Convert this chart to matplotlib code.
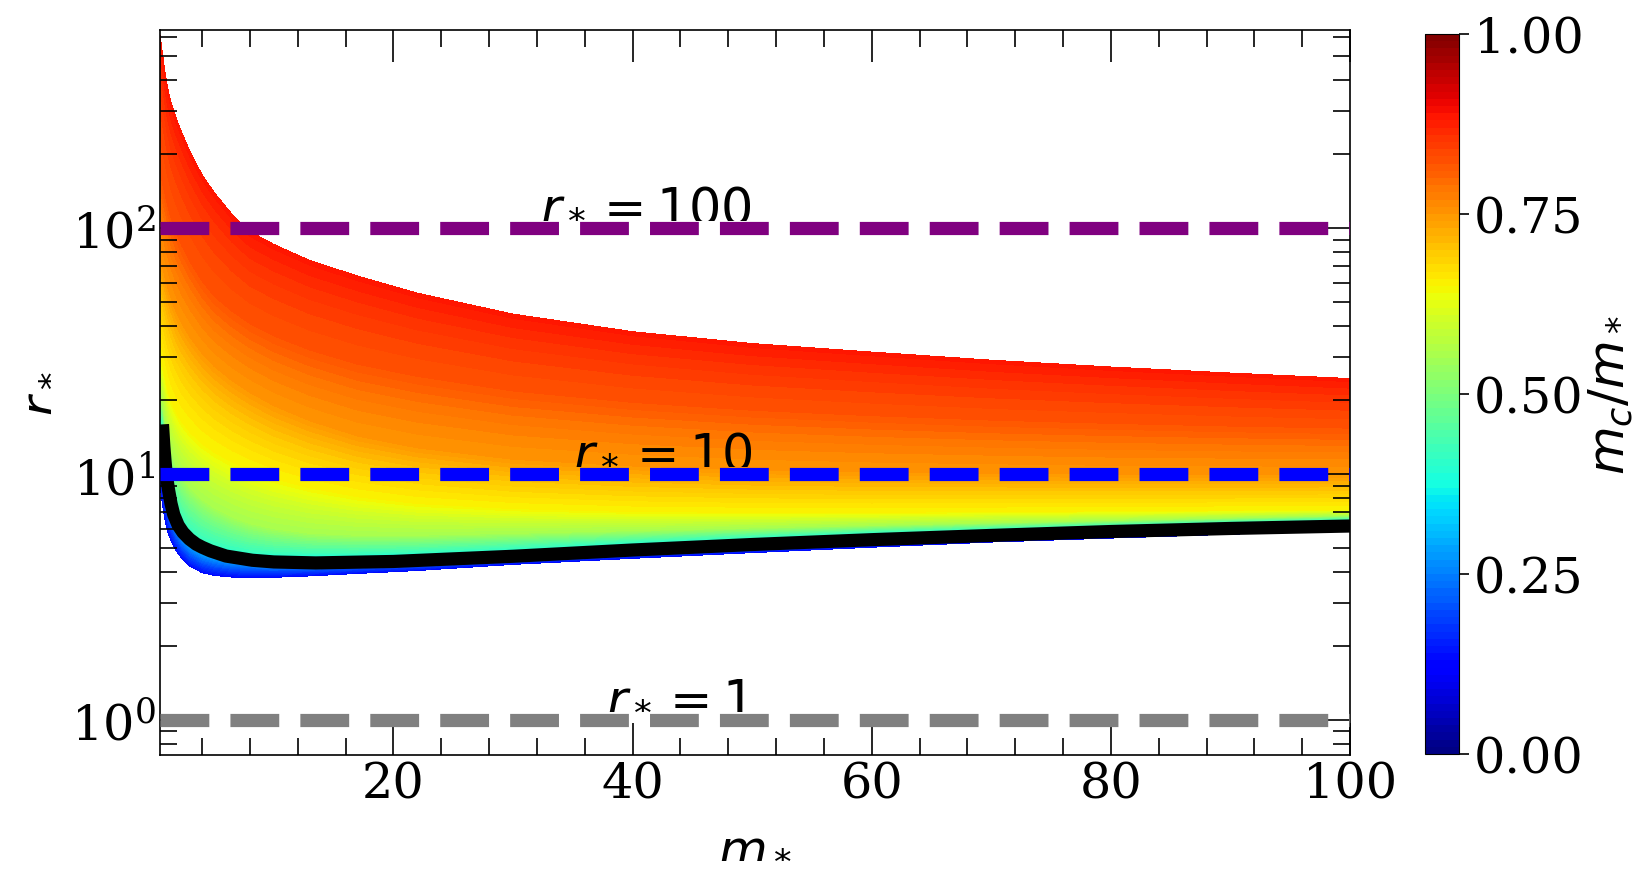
import numpy as np
import matplotlib
matplotlib.use('Agg')
import matplotlib.pyplot as plt
from matplotlib.ticker import AutoMinorLocator

plt.rcParams['font.family'] = 'serif'
plt.rcParams['mathtext.fontset'] = 'dejavusans'

m_cols = [0.5, 0.6, 0.75, 0.9, 1.1, 1.4, 1.8, 2.3, 3, 4, 5, 6.5, 8, 10,
          13, 17, 22, 30, 40, 50, 60, 70, 80, 90, 100]

# m_c/m_* carried by each band (first = lower edge, last = upper edge)
band_levels = [0.13, 0.42, 0.55, 0.65, 0.75, 0.82, 0.885]

# r_* of each band at each m_*
r_lower = [9.0, 8.1, 7.2, 6.5, 5.9, 5.35, 4.9, 4.55, 4.22, 3.98, 3.88, 3.82, 3.80,
           3.81, 3.86, 3.95, 4.06, 4.3, 4.55, 4.8, 5.05, 5.3, 5.5, 5.7, 5.9]
r_cyan = [16.5, 16, 15.5, 13, 10.8, 8.8, 7.4, 6.5, 5.9, 5.45, 5.2, 5.0, 4.85,
          4.78, 4.74, 4.76, 4.82, 5.0, 5.3, 5.55, 5.8, 6.0, 6.2, 6.4, 6.55]
r_green = [20, 19.5, 18.5, 16.5, 14.5, 12.5, 11, 9.8, 8.8, 7.9, 7.3, 6.7, 6.3,
           6.0, 5.75, 5.65, 5.65, 5.75, 5.9, 6.05, 6.2, 6.35, 6.5, 6.65, 6.8]
r_yellow = [30, 29, 27, 25, 22.5, 20, 18, 16.3, 14.8, 13.3, 12.3, 11.2, 10.4,
            9.6, 8.8, 8.1, 7.6, 7.25, 7.05, 7.0, 7.0, 7.05, 7.1, 7.15, 7.2]
r_orange = [75, 72, 68, 63, 58, 52, 46, 41, 36, 31, 27.5, 24, 21.5,
            19, 16.5, 14.3, 12.8, 11.5, 10.8, 10.4, 10.2, 10.1, 10.0, 10.0, 10.0]
r_redorange = [170, 160, 148, 138, 125, 110, 97, 85, 73, 61, 53, 46, 41,
               36.5, 32, 28, 25, 21.8, 19.6, 18.2, 17.3, 16.6, 16.1, 15.7, 15.4]
r_upper = [610, 550, 488, 430, 375, 325, 283, 245, 204, 165, 140, 114, 97,
           86, 74, 64, 54.5, 44.8, 38, 34, 31.4, 29.1, 27.3, 25.8, 24.5]

# black curve
m_black = [0.72, 0.8, 0.9, 1.0, 1.2, 1.4, 1.63, 2.0, 2.4, 2.94, 3.5, 4.0, 4.7,
           6.0, 8.2, 10, 13.5, 20, 30, 40, 50, 60, 70, 80, 90, 100]
r_black = [15, 13.0, 11.3, 10.0, 8.6, 7.6, 6.85, 6.2, 5.8, 5.45, 5.2, 5.05, 4.88,
           4.65, 4.47, 4.4, 4.36, 4.42, 4.64, 4.92, 5.18, 5.42, 5.64, 5.85, 6.02, 6.16]

# reference radii
ref_r = [100, 10, 1]
ref_colors = ['purple', 'blue', 'gray']
ref_labels = [r'$r_* = 100$', r'$r_* = 10$', r'$r_* = 1$']

rows = [r_lower, r_cyan, r_green, r_yellow, r_orange, r_redorange, r_upper]
X = np.tile(m_cols, (len(rows), 1))
Y = np.array(rows)
Z = np.tile(band_levels, (len(m_cols), 1)).T

fig = plt.figure(figsize=(16.52, 8.79), dpi=100)
ax = fig.add_axes([0.0970, 0.1396, 0.7202, 0.8251])
cax = fig.add_axes([0.8626, 0.1411, 0.0206, 0.8191])

cf = ax.contourf(X, Y, Z, levels=np.linspace(0, 1, 101), cmap='jet', zorder=1)
ax.plot(m_black, r_black, color='black', lw=9.5, zorder=3)

for r, c, lab in zip(ref_r, ref_colors, ref_labels):
    ax.axhline(r, color=c, ls='--', lw=9.5, zorder=4)
    ax.annotate(lab, (50, r), xytext=(0, 8.6), textcoords='offset points',
                ha='right', fontsize=36.5, zorder=3)

ax.set_yscale('log')
ax.set_xlim(0.5, 100)
ax.set_ylim(0.72, 640)
ax.xaxis.set_minor_locator(AutoMinorLocator(5))
ax.tick_params(which='both', direction='in', top=True, right=True, width=1.2)
ax.tick_params(which='major', length=23, labelsize=35.5)
ax.tick_params(which='minor', length=12)
for s in ax.spines.values():
    s.set_linewidth(1.2)
ax.set_xlabel(r'$m_*$', fontsize=36, labelpad=8)
ax.set_ylabel(r'$r_*$', fontsize=36, labelpad=8)

cb = fig.colorbar(cf, cax=cax, ticks=[0, 0.25, 0.5, 0.75, 1.0], format='%.2f')
cb.ax.tick_params(labelsize=35.5, length=7, width=1.2)
cb.set_label(r'$m_c/m_*$', fontsize=36, labelpad=2)

fig.savefig('out.png', dpi=100)
